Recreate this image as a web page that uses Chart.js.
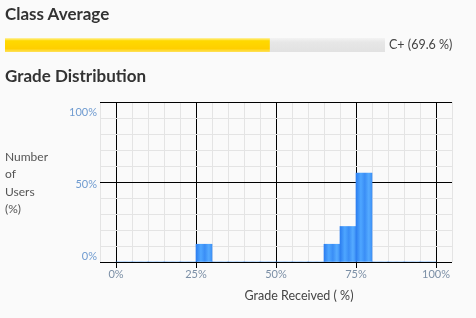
<!DOCTYPE html>
<html><head><meta charset="utf-8">
<script src="https://cdn.jsdelivr.net/npm/chart.js@4/dist/chart.umd.min.js"></script>
<style>
html,body{margin:0;padding:0;background:#fafafa;width:476px;height:318px;overflow:hidden;font-family:Lato,"Open Sans",sans-serif;}
.abs{position:absolute;white-space:nowrap;}
h2{margin:0;font-size:17px;font-weight:700;color:#333;line-height:17px;}
#avgWrap{position:absolute;left:5px;top:38px;width:380px;height:14px;}
#distWrap{position:absolute;left:0;top:0;width:476px;height:318px;}
</style></head><body>
<div id="distWrap"><canvas id="dist"></canvas></div>
<h2 class="abs" style="left:5px;top:5px">Class Average</h2>
<div id="avgWrap"><canvas id="avg"></canvas></div>
<div class="abs" id="avgText" style="left:389px;top:39px;font-size:12.5px;line-height:12.5px;color:#444"></div>
<h2 class="abs" style="left:5px;top:67px">Grade Distribution</h2>
<div class="abs" style="left:5px;top:148px;font-size:12px;line-height:17.3px;color:#555;white-space:normal">Number<br>of<br>Users<br>(%)</div>
<div class="abs" style="left:299px;top:290px;transform:translateX(-50%);font-size:12.5px;line-height:12.5px;color:#444">Grade Received ( %)</div>
<script>
// ---- data ----
const avgGrade = 'C+';
const classAverage = [69.6];
const binStarts = [0,5,10,15,20,25,30,35,40,45,50,55,60,65,70,75,80,85,90,95];
const binWidth = 5;
const userPercent = [0,0,0,0,0,11.1,0,0,0,0,0,0,0,11.1,22.2,55.6,0,0,0,0];
const xTickValues = [0,25,50,75,100];
const yTickValues = [0,50,100];

Chart.defaults.font.family = 'Lato, "Open Sans", sans-serif';
Chart.defaults.animation = false;

// ---- class average bar ----
document.getElementById('avgText').textContent = avgGrade + ' (' + classAverage[0] + ' %)';
const remainder = classAverage.map(v => 100 - v);
function vGrad(c, stops) {
  const ca = c.chart.chartArea;
  if (!ca || !isFinite(ca.top) || !isFinite(ca.bottom) || ca.bottom <= ca.top) return stops[1][1];
  const g = c.chart.ctx.createLinearGradient(0, ca.top, 0, ca.bottom);
  stops.forEach(s => g.addColorStop(s[0], s[1]));
  return g;
}
new Chart(document.getElementById('avg'), {
  type: 'bar',
  data: {
    labels: ['avg'],
    datasets: [
      {data: classAverage, backgroundColor: c => vGrad(c, [[0,'#fff2a8'],[0.2,'#ffd900'],[0.75,'#ffcf00'],[1,'#ffe25a']]), borderWidth: 0, barPercentage: 1, categoryPercentage: 1},
      {data: remainder, backgroundColor: c => vGrad(c, [[0,'#f3f3f3'],[0.3,'#e7e7e7'],[1,'#e2e2e2']]), borderWidth: 0, barPercentage: 1, categoryPercentage: 1}
    ]
  },
  options: {
    indexAxis: 'y', responsive: true, maintainAspectRatio: false,
    layout: {padding: 0},
    plugins: {legend: {display: false}, tooltip: {enabled: false}},
    scales: {
      x: {stacked: true, min: 0, max: 100, display: false},
      y: {stacked: true, display: false}
    }
  }
});

// ---- grade distribution ----
const isMajorX = v => xTickValues.includes(Math.round(v));
const isMajorY = v => yTickValues.includes(Math.round(v));
new Chart(document.getElementById('dist'), {
  type: 'bar',
  data: {
    datasets: [{
      data: binStarts.map((s, i) => ({x: s + binWidth / 2, y: userPercent[i]})),
      borderWidth: 0,
      barPercentage: 1,
      categoryPercentage: 1,
      backgroundColor: c => {
        const xs = c.chart.scales && c.chart.scales.x;
        if (!xs || !c.parsed || !c.chart.chartArea) return '#3d91f5';
        const l = xs.getPixelForValue(c.parsed.x - binWidth / 2);
        const r = xs.getPixelForValue(c.parsed.x + binWidth / 2);
        if (!isFinite(l) || !isFinite(r) || r <= l) return '#3d91f5';
        const g = c.chart.ctx.createLinearGradient(l, 0, r, 0);
        g.addColorStop(0, '#2c7ef0');
        g.addColorStop(0.3, '#4ea6ff');
        g.addColorStop(0.55, '#3a8ef6');
        g.addColorStop(0.8, '#55abff');
        g.addColorStop(1, '#3d90f6');
        return g;
      }
    }]
  },
  options: {
    responsive: true, maintainAspectRatio: false,
    layout: {padding: {top: 102, right: 24, bottom: 0, left: 0}},
    plugins: {legend: {display: false}, tooltip: {enabled: false}},
    scales: {
      x: {
        type: 'linear', min: -5, max: 105, offset: false, position: 'bottom',
        border: {display: false},
        grid: {
          offset: false,
          color: c => isMajorX(c.tick.value) ? '#000' : '#e4e4e4',
          tickColor: c => isMajorX(c.tick.value) ? '#000' : 'rgba(0,0,0,0)',
          tickLength: 6, lineWidth: 1
        },
        ticks: {
          stepSize: 5, autoSkip: false, maxRotation: 0, minRotation: 0, padding: 0,
          color: '#7b8fa6', font: {size: 11},
          callback: v => isMajorX(v) ? Math.round(v) + '%' : ''
        },
        afterFit: s => { s.height = 56; }
      },
      y: {
        type: 'linear', min: 0, max: 100, position: 'left',
        border: {display: false},
        grid: {color: c => isMajorY(c.tick.value) ? '#000' : '#e4e4e4', drawTicks: false, lineWidth: 1},
        ticks: {display: false, stepSize: 10},
        afterFit: s => { s.width = 0; }
      },
      yl: {
        type: 'linear', axis: 'y', min: -4, max: 107, position: 'left',
        border: {display: false},
        grid: {display: false, drawTicks: false},
        ticks: {padding: 3, color: '#6f9bd0', font: {size: 11}, callback: v => v + '%'},
        afterBuildTicks: s => { s.ticks = yTickValues.map(v => ({value: v})); },
        afterFit: s => { s.width = 100; }
      }
    }
  }
});
</script>
</body></html>
